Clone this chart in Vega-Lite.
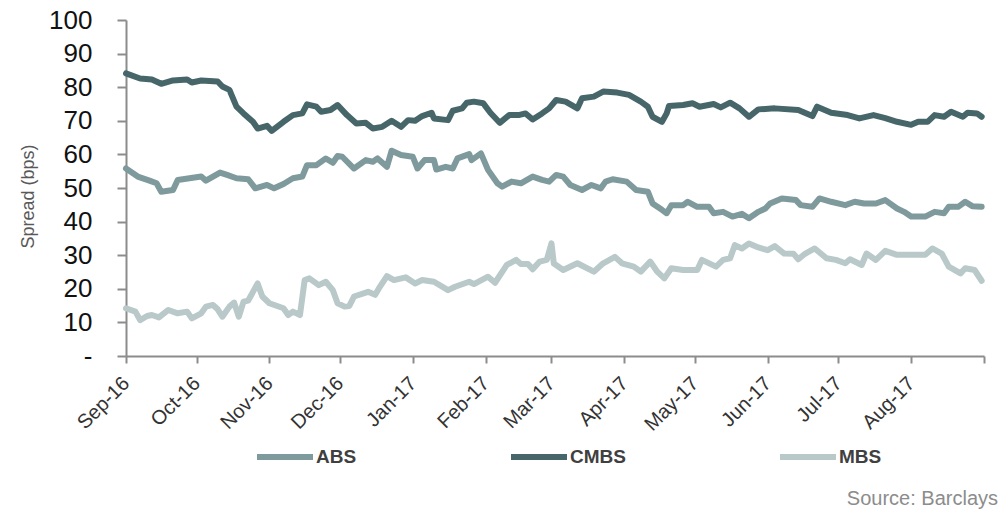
{
  "$schema": "https://vega.github.io/schema/vega-lite/v6.json",
  "width": 858,
  "height": 336,
  "autosize": {"type": "none"},
  "padding": {"left": 126, "top": 20, "right": 15, "bottom": 153},
  "background": "white",
  "config": {"view": {"stroke": null}, "font": "Liberation Sans"},
  "title": {"text": "Source: Barclays", "orient": "bottom", "anchor": "end", "frame": "group", "fontSize": 20, "fontWeight": "normal", "color": "#8c8c8c", "font": "Liberation Sans", "dx": 14, "offset": 20},
  "data": {"values": [
    {"d":"2016-09-01","s":"CMBS","v":84.1},{"d":"2016-09-07","s":"CMBS","v":82.6},{"d":"2016-09-12","s":"CMBS","v":82.3},{"d":"2016-09-16","s":"CMBS","v":81.0},{"d":"2016-09-21","s":"CMBS","v":82.0},{"d":"2016-09-27","s":"CMBS","v":82.3},{"d":"2016-09-29","s":"CMBS","v":81.4},{"d":"2016-10-03","s":"CMBS","v":82.0},{"d":"2016-10-10","s":"CMBS","v":81.7},{"d":"2016-10-12","s":"CMBS","v":80.2},{"d":"2016-10-15","s":"CMBS","v":79.2},{"d":"2016-10-18","s":"CMBS","v":74.2},{"d":"2016-10-21","s":"CMBS","v":72.2},{"d":"2016-10-25","s":"CMBS","v":69.7},{"d":"2016-10-27","s":"CMBS","v":67.7},{"d":"2016-10-31","s":"CMBS","v":68.5},{"d":"2016-11-02","s":"CMBS","v":67.0},{"d":"2016-11-07","s":"CMBS","v":69.7},{"d":"2016-11-11","s":"CMBS","v":71.7},{"d":"2016-11-15","s":"CMBS","v":72.2},{"d":"2016-11-17","s":"CMBS","v":74.9},{"d":"2016-11-21","s":"CMBS","v":74.2},{"d":"2016-11-23","s":"CMBS","v":72.7},{"d":"2016-11-27","s":"CMBS","v":73.2},{"d":"2016-11-30","s":"CMBS","v":74.7},{"d":"2016-12-04","s":"CMBS","v":71.7},{"d":"2016-12-08","s":"CMBS","v":69.2},{"d":"2016-12-12","s":"CMBS","v":69.4},{"d":"2016-12-15","s":"CMBS","v":67.7},{"d":"2016-12-19","s":"CMBS","v":68.2},{"d":"2016-12-23","s":"CMBS","v":70.0},{"d":"2016-12-27","s":"CMBS","v":68.2},{"d":"2016-12-30","s":"CMBS","v":70.2},{"d":"2017-01-02","s":"CMBS","v":70.0},{"d":"2017-01-05","s":"CMBS","v":71.4},{"d":"2017-01-09","s":"CMBS","v":72.4},{"d":"2017-01-10","s":"CMBS","v":70.7},{"d":"2017-01-16","s":"CMBS","v":70.2},{"d":"2017-01-18","s":"CMBS","v":73.0},{"d":"2017-01-22","s":"CMBS","v":73.7},{"d":"2017-01-24","s":"CMBS","v":75.4},{"d":"2017-01-27","s":"CMBS","v":75.7},{"d":"2017-01-31","s":"CMBS","v":75.2},{"d":"2017-02-03","s":"CMBS","v":72.4},{"d":"2017-02-07","s":"CMBS","v":69.4},{"d":"2017-02-11","s":"CMBS","v":71.7},{"d":"2017-02-15","s":"CMBS","v":71.7},{"d":"2017-02-18","s":"CMBS","v":72.2},{"d":"2017-02-21","s":"CMBS","v":70.4},{"d":"2017-02-25","s":"CMBS","v":72.2},{"d":"2017-02-28","s":"CMBS","v":73.7},{"d":"2017-03-03","s":"CMBS","v":76.2},{"d":"2017-03-07","s":"CMBS","v":75.7},{"d":"2017-03-12","s":"CMBS","v":73.7},{"d":"2017-03-14","s":"CMBS","v":76.7},{"d":"2017-03-19","s":"CMBS","v":77.2},{"d":"2017-03-23","s":"CMBS","v":78.7},{"d":"2017-03-29","s":"CMBS","v":78.4},{"d":"2017-04-03","s":"CMBS","v":77.7},{"d":"2017-04-08","s":"CMBS","v":75.7},{"d":"2017-04-11","s":"CMBS","v":74.2},{"d":"2017-04-13","s":"CMBS","v":71.2},{"d":"2017-04-17","s":"CMBS","v":69.7},{"d":"2017-04-19","s":"CMBS","v":72.2},{"d":"2017-04-20","s":"CMBS","v":74.4},{"d":"2017-04-26","s":"CMBS","v":74.7},{"d":"2017-04-30","s":"CMBS","v":75.2},{"d":"2017-05-03","s":"CMBS","v":74.2},{"d":"2017-05-09","s":"CMBS","v":75.0},{"d":"2017-05-12","s":"CMBS","v":74.0},{"d":"2017-05-16","s":"CMBS","v":75.4},{"d":"2017-05-20","s":"CMBS","v":73.7},{"d":"2017-05-24","s":"CMBS","v":71.2},{"d":"2017-05-28","s":"CMBS","v":73.4},{"d":"2017-06-04","s":"CMBS","v":73.7},{"d":"2017-06-14","s":"CMBS","v":73.2},{"d":"2017-06-20","s":"CMBS","v":71.4},{"d":"2017-06-22","s":"CMBS","v":74.2},{"d":"2017-06-28","s":"CMBS","v":72.4},{"d":"2017-07-05","s":"CMBS","v":71.7},{"d":"2017-07-10","s":"CMBS","v":70.7},{"d":"2017-07-16","s":"CMBS","v":71.7},{"d":"2017-07-21","s":"CMBS","v":70.8},{"d":"2017-07-26","s":"CMBS","v":69.7},{"d":"2017-08-01","s":"CMBS","v":68.8},{"d":"2017-08-04","s":"CMBS","v":69.7},{"d":"2017-08-08","s":"CMBS","v":69.7},{"d":"2017-08-11","s":"CMBS","v":71.7},{"d":"2017-08-15","s":"CMBS","v":71.2},{"d":"2017-08-18","s":"CMBS","v":72.7},{"d":"2017-08-23","s":"CMBS","v":71.2},{"d":"2017-08-25","s":"CMBS","v":72.4},{"d":"2017-08-29","s":"CMBS","v":72.2},{"d":"2017-08-31","s":"CMBS","v":71.2},
    {"d":"2016-09-01","s":"ABS","v":55.8},{"d":"2016-09-06","s":"ABS","v":53.4},{"d":"2016-09-11","s":"ABS","v":52.2},{"d":"2016-09-14","s":"ABS","v":51.4},{"d":"2016-09-16","s":"ABS","v":48.9},{"d":"2016-09-21","s":"ABS","v":49.4},{"d":"2016-09-23","s":"ABS","v":52.4},{"d":"2016-09-28","s":"ABS","v":52.9},{"d":"2016-10-03","s":"ABS","v":53.4},{"d":"2016-10-05","s":"ABS","v":52.2},{"d":"2016-10-11","s":"ABS","v":54.6},{"d":"2016-10-14","s":"ABS","v":53.9},{"d":"2016-10-18","s":"ABS","v":52.9},{"d":"2016-10-23","s":"ABS","v":52.6},{"d":"2016-10-26","s":"ABS","v":49.9},{"d":"2016-10-31","s":"ABS","v":50.9},{"d":"2016-11-03","s":"ABS","v":49.9},{"d":"2016-11-07","s":"ABS","v":51.2},{"d":"2016-11-11","s":"ABS","v":52.9},{"d":"2016-11-15","s":"ABS","v":53.4},{"d":"2016-11-17","s":"ABS","v":56.8},{"d":"2016-11-21","s":"ABS","v":56.8},{"d":"2016-11-25","s":"ABS","v":58.8},{"d":"2016-11-28","s":"ABS","v":57.5},{"d":"2016-11-30","s":"ABS","v":59.5},{"d":"2016-12-02","s":"ABS","v":59.3},{"d":"2016-12-07","s":"ABS","v":55.8},{"d":"2016-12-12","s":"ABS","v":58.3},{"d":"2016-12-15","s":"ABS","v":57.8},{"d":"2016-12-17","s":"ABS","v":58.8},{"d":"2016-12-21","s":"ABS","v":56.3},{"d":"2016-12-23","s":"ABS","v":61.1},{"d":"2016-12-27","s":"ABS","v":59.8},{"d":"2017-01-01","s":"ABS","v":59.3},{"d":"2017-01-03","s":"ABS","v":55.8},{"d":"2017-01-06","s":"ABS","v":58.3},{"d":"2017-01-10","s":"ABS","v":58.3},{"d":"2017-01-11","s":"ABS","v":55.5},{"d":"2017-01-15","s":"ABS","v":56.3},{"d":"2017-01-18","s":"ABS","v":55.8},{"d":"2017-01-20","s":"ABS","v":58.8},{"d":"2017-01-25","s":"ABS","v":60.1},{"d":"2017-01-26","s":"ABS","v":58.3},{"d":"2017-01-30","s":"ABS","v":60.3},{"d":"2017-02-02","s":"ABS","v":55.4},{"d":"2017-02-06","s":"ABS","v":51.4},{"d":"2017-02-08","s":"ABS","v":50.4},{"d":"2017-02-12","s":"ABS","v":51.9},{"d":"2017-02-16","s":"ABS","v":51.4},{"d":"2017-02-21","s":"ABS","v":53.4},{"d":"2017-02-25","s":"ABS","v":52.4},{"d":"2017-02-28","s":"ABS","v":51.9},{"d":"2017-03-03","s":"ABS","v":53.9},{"d":"2017-03-06","s":"ABS","v":53.4},{"d":"2017-03-09","s":"ABS","v":50.9},{"d":"2017-03-14","s":"ABS","v":49.4},{"d":"2017-03-18","s":"ABS","v":50.9},{"d":"2017-03-22","s":"ABS","v":49.9},{"d":"2017-03-24","s":"ABS","v":51.9},{"d":"2017-03-27","s":"ABS","v":52.6},{"d":"2017-04-02","s":"ABS","v":51.9},{"d":"2017-04-06","s":"ABS","v":49.4},{"d":"2017-04-11","s":"ABS","v":48.9},{"d":"2017-04-13","s":"ABS","v":45.4},{"d":"2017-04-17","s":"ABS","v":43.5},{"d":"2017-04-19","s":"ABS","v":42.5},{"d":"2017-04-21","s":"ABS","v":44.9},{"d":"2017-04-26","s":"ABS","v":44.9},{"d":"2017-04-28","s":"ABS","v":45.9},{"d":"2017-05-02","s":"ABS","v":44.4},{"d":"2017-05-07","s":"ABS","v":44.4},{"d":"2017-05-09","s":"ABS","v":42.5},{"d":"2017-05-13","s":"ABS","v":42.9},{"d":"2017-05-17","s":"ABS","v":41.5},{"d":"2017-05-21","s":"ABS","v":42.3},{"d":"2017-05-24","s":"ABS","v":41.0},{"d":"2017-05-28","s":"ABS","v":42.9},{"d":"2017-05-31","s":"ABS","v":43.9},{"d":"2017-06-02","s":"ABS","v":45.4},{"d":"2017-06-07","s":"ABS","v":46.9},{"d":"2017-06-13","s":"ABS","v":46.4},{"d":"2017-06-15","s":"ABS","v":44.9},{"d":"2017-06-20","s":"ABS","v":44.4},{"d":"2017-06-23","s":"ABS","v":46.9},{"d":"2017-06-28","s":"ABS","v":45.9},{"d":"2017-07-04","s":"ABS","v":44.9},{"d":"2017-07-08","s":"ABS","v":45.9},{"d":"2017-07-12","s":"ABS","v":45.4},{"d":"2017-07-17","s":"ABS","v":45.4},{"d":"2017-07-21","s":"ABS","v":46.4},{"d":"2017-07-26","s":"ABS","v":43.9},{"d":"2017-07-29","s":"ABS","v":42.9},{"d":"2017-08-01","s":"ABS","v":41.5},{"d":"2017-08-07","s":"ABS","v":41.5},{"d":"2017-08-11","s":"ABS","v":42.9},{"d":"2017-08-15","s":"ABS","v":42.5},{"d":"2017-08-17","s":"ABS","v":44.4},{"d":"2017-08-21","s":"ABS","v":44.4},{"d":"2017-08-24","s":"ABS","v":45.9},{"d":"2017-08-27","s":"ABS","v":44.6},{"d":"2017-08-31","s":"ABS","v":44.4},
    {"d":"2016-09-01","s":"MBS","v":14.2},{"d":"2016-09-05","s":"MBS","v":13.2},{"d":"2016-09-07","s":"MBS","v":10.7},{"d":"2016-09-10","s":"MBS","v":11.9},{"d":"2016-09-12","s":"MBS","v":12.2},{"d":"2016-09-15","s":"MBS","v":11.5},{"d":"2016-09-19","s":"MBS","v":13.7},{"d":"2016-09-23","s":"MBS","v":12.7},{"d":"2016-09-27","s":"MBS","v":13.2},{"d":"2016-09-29","s":"MBS","v":11.2},{"d":"2016-10-03","s":"MBS","v":12.7},{"d":"2016-10-05","s":"MBS","v":14.7},{"d":"2016-10-08","s":"MBS","v":15.2},{"d":"2016-10-10","s":"MBS","v":13.9},{"d":"2016-10-12","s":"MBS","v":11.7},{"d":"2016-10-15","s":"MBS","v":14.7},{"d":"2016-10-17","s":"MBS","v":15.9},{"d":"2016-10-19","s":"MBS","v":11.7},{"d":"2016-10-21","s":"MBS","v":16.2},{"d":"2016-10-23","s":"MBS","v":16.5},{"d":"2016-10-27","s":"MBS","v":21.6},{"d":"2016-10-29","s":"MBS","v":17.7},{"d":"2016-11-01","s":"MBS","v":15.7},{"d":"2016-11-07","s":"MBS","v":14.2},{"d":"2016-11-09","s":"MBS","v":12.2},{"d":"2016-11-11","s":"MBS","v":13.2},{"d":"2016-11-14","s":"MBS","v":12.2},{"d":"2016-11-16","s":"MBS","v":22.6},{"d":"2016-11-18","s":"MBS","v":23.1},{"d":"2016-11-22","s":"MBS","v":21.1},{"d":"2016-11-25","s":"MBS","v":22.1},{"d":"2016-11-28","s":"MBS","v":19.6},{"d":"2016-11-30","s":"MBS","v":15.7},{"d":"2016-12-03","s":"MBS","v":14.7},{"d":"2016-12-05","s":"MBS","v":14.9},{"d":"2016-12-07","s":"MBS","v":17.7},{"d":"2016-12-13","s":"MBS","v":19.1},{"d":"2016-12-16","s":"MBS","v":18.2},{"d":"2016-12-18","s":"MBS","v":20.6},{"d":"2016-12-21","s":"MBS","v":23.8},{"d":"2016-12-24","s":"MBS","v":22.6},{"d":"2016-12-29","s":"MBS","v":23.4},{"d":"2017-01-02","s":"MBS","v":21.6},{"d":"2017-01-05","s":"MBS","v":22.6},{"d":"2017-01-10","s":"MBS","v":22.1},{"d":"2017-01-16","s":"MBS","v":19.6},{"d":"2017-01-19","s":"MBS","v":20.6},{"d":"2017-01-25","s":"MBS","v":22.1},{"d":"2017-01-27","s":"MBS","v":21.4},{"d":"2017-02-02","s":"MBS","v":23.6},{"d":"2017-02-05","s":"MBS","v":21.8},{"d":"2017-02-10","s":"MBS","v":27.1},{"d":"2017-02-14","s":"MBS","v":28.6},{"d":"2017-02-16","s":"MBS","v":27.4},{"d":"2017-02-19","s":"MBS","v":27.4},{"d":"2017-02-21","s":"MBS","v":25.8},{"d":"2017-02-24","s":"MBS","v":28.1},{"d":"2017-02-27","s":"MBS","v":28.6},{"d":"2017-03-01","s":"MBS","v":33.5},{"d":"2017-03-02","s":"MBS","v":27.5},{"d":"2017-03-06","s":"MBS","v":25.6},{"d":"2017-03-12","s":"MBS","v":27.6},{"d":"2017-03-19","s":"MBS","v":25.1},{"d":"2017-03-23","s":"MBS","v":27.6},{"d":"2017-03-28","s":"MBS","v":29.5},{"d":"2017-03-31","s":"MBS","v":27.6},{"d":"2017-04-05","s":"MBS","v":26.6},{"d":"2017-04-08","s":"MBS","v":25.1},{"d":"2017-04-12","s":"MBS","v":28.1},{"d":"2017-04-15","s":"MBS","v":25.1},{"d":"2017-04-18","s":"MBS","v":23.1},{"d":"2017-04-21","s":"MBS","v":26.1},{"d":"2017-04-26","s":"MBS","v":25.6},{"d":"2017-05-02","s":"MBS","v":25.6},{"d":"2017-05-04","s":"MBS","v":28.6},{"d":"2017-05-10","s":"MBS","v":26.6},{"d":"2017-05-13","s":"MBS","v":28.6},{"d":"2017-05-16","s":"MBS","v":29.1},{"d":"2017-05-18","s":"MBS","v":33.0},{"d":"2017-05-21","s":"MBS","v":32.0},{"d":"2017-05-24","s":"MBS","v":33.5},{"d":"2017-05-28","s":"MBS","v":32.3},{"d":"2017-06-01","s":"MBS","v":31.5},{"d":"2017-06-04","s":"MBS","v":32.7},{"d":"2017-06-08","s":"MBS","v":30.5},{"d":"2017-06-12","s":"MBS","v":30.4},{"d":"2017-06-14","s":"MBS","v":28.8},{"d":"2017-06-17","s":"MBS","v":30.5},{"d":"2017-06-21","s":"MBS","v":32.0},{"d":"2017-06-26","s":"MBS","v":29.1},{"d":"2017-06-30","s":"MBS","v":28.6},{"d":"2017-07-04","s":"MBS","v":27.6},{"d":"2017-07-06","s":"MBS","v":28.8},{"d":"2017-07-11","s":"MBS","v":27.1},{"d":"2017-07-13","s":"MBS","v":30.5},{"d":"2017-07-17","s":"MBS","v":28.6},{"d":"2017-07-21","s":"MBS","v":31.3},{"d":"2017-07-26","s":"MBS","v":30.1},{"d":"2017-08-01","s":"MBS","v":30.1},{"d":"2017-08-07","s":"MBS","v":30.1},{"d":"2017-08-10","s":"MBS","v":32.0},{"d":"2017-08-14","s":"MBS","v":30.5},{"d":"2017-08-17","s":"MBS","v":26.6},{"d":"2017-08-22","s":"MBS","v":24.6},{"d":"2017-08-24","s":"MBS","v":26.1},{"d":"2017-08-28","s":"MBS","v":25.6},{"d":"2017-08-31","s":"MBS","v":22.4}
  ]},
  "mark": {"type": "line", "strokeWidth": 6, "strokeCap": "round", "strokeJoin": "round"},
  "encoding": {
    "x": {
      "field": "d", "type": "temporal",
      "scale": {"type": "utc", "domain": [{"year": 2016, "month": "sep", "date": 1, "utc": true}, {"year": 2017, "month": "sep", "date": 1, "utc": true}]},
      "axis": {
        "title": null, "grid": false,
        "tickCount": {"interval": "month", "step": 1},
        "labelExpr": "utcyear(datum.value) == 2017 && utcmonth(datum.value) == 8 ? '' : utcFormat(datum.value, '%b-%y')",
        "labelAngle": -45, "labelAlign": "right", "labelBaseline": "middle",
        "labelFontSize": 20, "labelColor": "#333333", "labelFont": "Liberation Sans",
        "labelPadding": 17, "labelOverlap": false, "labelFlush": false,
        "domainColor": "#8c8c8c", "domainWidth": 2, "tickColor": "#8c8c8c", "tickWidth": 2, "tickSize": 7
      }
    },
    "y": {
      "field": "v", "type": "quantitative",
      "scale": {"domain": [0, 100], "nice": false},
      "axis": {
        "title": "Spread (bps)", "titleFontSize": 18, "titleFontWeight": "normal", "titleColor": "#595959", "titleFont": "Liberation Sans",
        "titleX": -98, "titleY": 176, "titleBaseline": "middle", "titleAngle": -90,
        "values": [0, 10, 20, 30, 40, 50, 60, 70, 80, 90, 100],
        "labelExpr": "datum.value == 0 ? '-' : datum.label",
        "labelFontSize": 26, "labelColor": "#111111", "labelFont": "Liberation Sans", "labelPadding": 25,
        "grid": false, "domainColor": "#8c8c8c", "domainWidth": 2, "tickColor": "#8c8c8c", "tickWidth": 2, "tickSize": 9
      }
    },
    "color": {
      "field": "s", "type": "nominal",
      "scale": {"domain": ["ABS", "CMBS", "MBS"], "range": ["#7f9a9c", "#46666a", "#b9c8c8"]},
      "legend": {
        "title": null, "orient": "none", "legendX": 128, "legendY": 406, "direction": "horizontal",
        "symbolType": "stroke", "symbolSize": 3136, "symbolStrokeWidth": 6,
        "labelFont": "Liberation Sans", "labelFontSize": 19, "labelFontWeight": "bold", "labelColor": "#404040",
        "labelOffset": 0, "columnPadding": 142, "padding": 0
      }
    }
  }
}
